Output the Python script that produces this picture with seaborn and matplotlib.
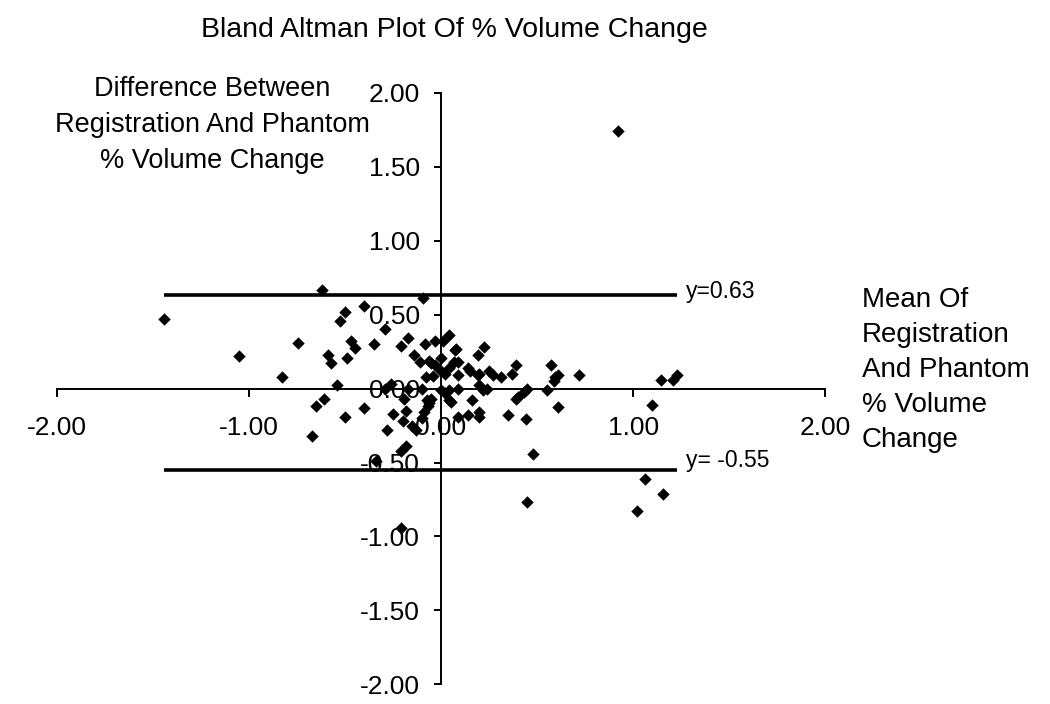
import pandas as pd
import numpy as np
import matplotlib
matplotlib.use('Agg')
import matplotlib.pyplot as plt
import seaborn as sns

sns.set_theme(style='white')
plt.rcParams['font.family'] = ['Liberation Sans', 'DejaVu Sans']
plt.rcParams['text.color'] = 'black'

# mean of registration and phantom % volume change (x) and their difference (y)
mean_vals = [-1.44, -1.05, -0.83, -0.745, -0.67, -0.65, -0.62, -0.61, -0.59, -0.57,
             -0.54, -0.525, -0.50, -0.50, -0.49, -0.47, -0.45, -0.40, -0.40, -0.35,
             -0.34, -0.29, -0.29, -0.28, -0.26, -0.25, -0.21, -0.21, -0.21, -0.20,
             -0.19, -0.18, -0.17, -0.17, -0.18, -0.15, -0.14, -0.13, -0.11, -0.10,
             -0.10, -0.094, -0.09, -0.085, -0.08, -0.075, -0.07, -0.065, -0.06, -0.05,
             -0.04, -0.03, -0.03, -0.05, 0.0, 0.0, 0.0, 0.01, 0.02, 0.02,
             0.04, 0.04, 0.04, 0.04, 0.05, 0.07, 0.075, 0.08, 0.09, 0.09,
             0.09, 0.09, 0.14, 0.14, 0.15, 0.16, 0.19, 0.19, 0.20, 0.20,
             0.20, 0.20, 0.22, 0.225, 0.24, 0.25, 0.27, 0.31, 0.35, 0.37,
             0.39, 0.39, 0.40, 0.43, 0.44, 0.45, 0.45, 0.48, 0.55, 0.575,
             0.59, 0.595, 0.61, 0.61, 0.72, 0.92, 1.02, 1.06, 1.10, 1.145,
             1.155, 1.205, 1.227]
diff_vals = [0.47, 0.22, 0.077, 0.31, -0.32, -0.115, 0.67, -0.07, 0.23, 0.17,
             0.027, 0.46, 0.52, -0.19, 0.21, 0.32, 0.275, 0.56, -0.13, 0.30,
             -0.49, 0.40, 0.0, -0.28, 0.03, -0.17, 0.29, -0.94, -0.42, -0.22,
             -0.07, -0.15, 0.34, 0.0, -0.385, -0.25, 0.23, -0.28, 0.18, 0.0,
             -0.20, 0.61, -0.16, 0.30, 0.08, -0.08, -0.12, 0.19, -0.10, -0.07,
             0.088, 0.32, 0.16, 0.17, 0.21, -0.01, 0.12, 0.32, 0.10, -0.03,
             0.36, 0.14, -0.01, -0.08, -0.09, 0.18, 0.26, 0.27, 0.09, 0.0,
             -0.19, 0.18, 0.14, -0.18, 0.12, -0.08, 0.23, 0.09, 0.10, 0.025,
             -0.19, -0.16, -0.01, 0.28, 0.0, 0.12, 0.09, 0.08, -0.18, 0.10,
             0.16, -0.07, -0.06, -0.02, -0.205, 0.0, -0.77, -0.44, -0.01, 0.16,
             0.05, 0.077, 0.09, -0.126, 0.095, 1.74, -0.83, -0.61, -0.11, 0.06,
             -0.71, 0.06, 0.095]

upper_limit = 0.63
lower_limit = -0.55
ticks = [-2, -1, 0, 1, 2]
ytick_vals = [-2, -1.5, -1, -0.5, 0, 0.5, 1, 1.5, 2]

df = pd.DataFrame({'mean': mean_vals, 'diff': diff_vals})

fig = plt.figure(figsize=(10.5, 7.04), dpi=100)
ax = fig.add_axes([0.054, 0.028, 0.732, 0.840])

sns.scatterplot(data=df, x='mean', y='diff', marker='D', s=40, color='black',
                edgecolor='black', linewidth=0, ax=ax, zorder=3)

# limits of agreement, drawn across the range of the data
ax.hlines([upper_limit, lower_limit], df['mean'].min(), df['mean'].max(),
          color='black', linewidth=2.6, zorder=2)
ax.text(df['mean'].max() + 0.05, upper_limit + 0.03, 'y=0.63', fontsize=16.5,
        va='center', ha='left')
ax.text(df['mean'].max() + 0.05, lower_limit + 0.065, 'y= -0.55', fontsize=16.5,
        va='center', ha='left')

ax.set_xlim(-2, 2)
ax.set_ylim(-2, 2)
ax.set_xticks(ticks)
ax.set_yticks(ytick_vals)
ax.set_xticklabels(['%.2f' % t for t in ticks])
ax.set_yticklabels(['%.2f' % t for t in ytick_vals])

# cross-shaped axes through the origin
ax.spines['left'].set_position('zero')
ax.spines['bottom'].set_position('zero')
ax.spines['right'].set_visible(False)
ax.spines['top'].set_visible(False)
for s in ['left', 'bottom']:
    ax.spines[s].set_color('black')
    ax.spines[s].set_linewidth(1.4)
ax.tick_params(axis='x', direction='out', length=6, width=1.4, pad=14,
               labelsize=19, colors='black', bottom=True)
ax.tick_params(axis='y', direction='out', length=5, width=1.4, pad=10,
               labelsize=19, colors='black', left=True)
ax.set_xlabel('')
ax.set_ylabel('')

fig.text(0.433, 0.958, 'Bland Altman Plot Of % Volume Change', ha='center',
         va='center', fontsize=20.5)
fig.text(0.202, 0.822, 'Difference Between\nRegistration And Phantom\n% Volume Change',
         ha='center', va='center', fontsize=19.5, linespacing=1.5)
fig.text(0.821, 0.475, 'Mean Of\nRegistration\nAnd Phantom\n% Volume\nChange',
         ha='left', va='center', fontsize=20, linespacing=1.45)

fig.savefig('out.png', dpi=100, facecolor='white')
